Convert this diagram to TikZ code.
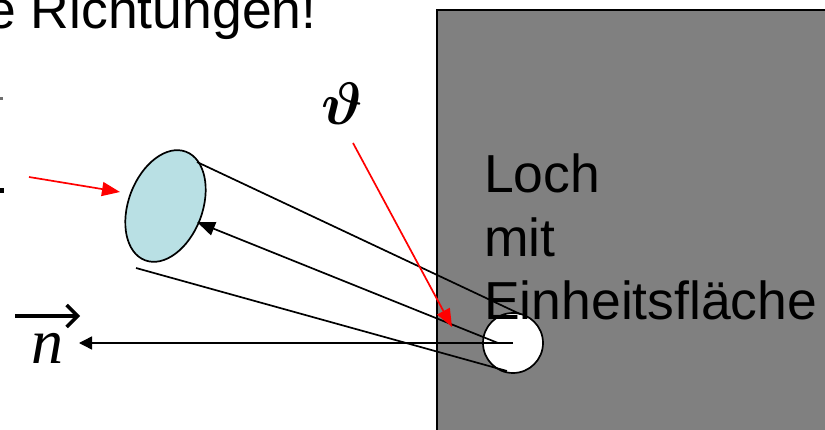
\documentclass[tikz,border=0pt]{standalone}
\usepackage{amsmath}
\usepackage{fontspec}
\setmainfont{Liberation Sans}
\newfontfamily\timesfont{Liberation Serif}
\usetikzlibrary{arrows.meta,shapes.geometric}
\definecolor{boxgray}{RGB}{128,128,128}
\definecolor{diskblue}{RGB}{185,224,228}
\definecolor{fraggray}{RGB}{110,110,110}
\begin{document}
\begin{tikzpicture}[x=1pt,y=-1pt,
  bigtext/.style={font=\fontsize{53.5}{64}\selectfont, inner sep=0pt, anchor=base west},
  ray/.style={draw=black, line width=1.7pt},
  redarrow/.style={draw=red, line width=1.7pt, -{Triangle[length=18pt,width=14pt]}},
  blackhead/.style={-{Triangle[length=18pt,width=14pt]}}
]
\useasboundingbox (0,0) rectangle (825,430);
% wall
\fill[boxgray] (437,10) rectangle (830,440);
\draw[line width=1.2pt] (437,440) -- (437,10) -- (830,10);
% fragments at the left border
\fill[fraggray] (0,97) rectangle (3,100);
\fill[black] (0,188) rectangle (4,193);
% hole and disk
\node[circle, draw, line width=1.7pt, fill=white, minimum size=60pt, inner sep=0pt] (hole) at (513,343) {};
\node[ellipse, draw, line width=1.7pt, fill=diskblue, minimum width=74pt, minimum height=116pt, inner sep=0pt, rotate=-20.6] (disk) at (165.5,206) {};
% coordinates
\coordinate (ct) at (197,162);
\coordinate (cb) at (136,268);
\coordinate (ht) at (520,314);
\coordinate (hb) at (507,371);
\coordinate (hm) at (498,343);
\coordinate (tipm) at (197,222);
\coordinate (tipn) at (79,343);
% cone
\draw[ray] (ct) -- (ht);
\draw[ray] (cb) -- (hb);
\draw[ray, blackhead] (hm) -- (tipm);
\draw[ray, line width=1.4pt, -{Triangle[length=13pt,width=13pt]}] (hole.center) -- (tipn);
% red arrows
\coordinate (rl0) at (29,177);
\coordinate (rl1) at (120,192);
\draw[redarrow] (rl0) -- (rl1);
\node[scale=6.0, inner sep=0pt, anchor=base west] (theta) at (320,125) {$\boldsymbol{\vartheta}$};
\coordinate (rt0) at (353,143);
\coordinate (rt1) at (452,327);
\draw[redarrow] (rt0) -- (rt1);
% normal vector
\node[font=\timesfont\itshape\fontsize{64}{64}\selectfont, inner sep=0pt, anchor=base west] (nvec) at (31,363) {n};
\coordinate (va) at (15,316);
\coordinate (vb) at (80,316);
\draw[line width=3.5pt, -{Straight Barb[length=11pt,width=22pt]}] (va) -- (vb);
% texts
\node[bigtext] (title) at (-13.8,29) {e Richtungen!};
\node[bigtext] (loch) at (484,193) {Loch};
\node[bigtext] (mit) at (484,257) {mit};
\node[bigtext] (einh) at (484,320) {Einheitsfläche};
\end{tikzpicture}
\end{document}
